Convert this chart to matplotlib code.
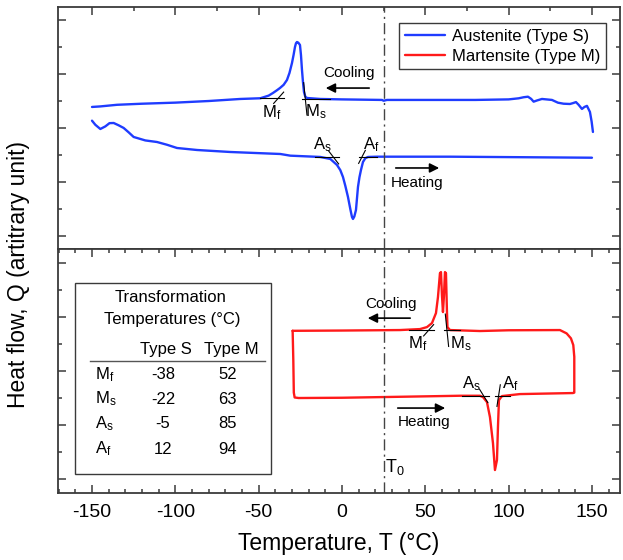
import numpy as np
import matplotlib.pyplot as plt
from matplotlib.ticker import MultipleLocator
from matplotlib.patches import Rectangle

plt.rcParams['font.family'] = ['Liberation Sans', 'DejaVu Sans']
plt.rcParams['mathtext.fontset'] = 'custom'
plt.rcParams['mathtext.rm'] = 'Liberation Sans'
plt.rcParams['mathtext.it'] = 'Liberation Sans:italic'
plt.rcParams['axes.unicode_minus'] = False

# --- DSC traces (arbitrary heat-flow units) ---
# Type S, cooling run (upper blue trace)
s_cool_T = [-150, -145, -135, -120, -100, -80, -61, -49, -44, -41.4, -39, -37.2, -35, -33,
            -31.5, -30, -29, -28.2, -27.6, -27, -26.2, -25.2, -24.6, -24, -23.4, -22.8, -22,
            -21, -13, 0, 24, 25, 27, 50, 80, 100, 106, 109, 111.6, 113.5, 115, 117, 120, 126,
            129.6, 133, 136.8, 138.5, 140.4, 142, 144, 145.5, 147, 148.8, 149.8, 150.6]
s_cool_Q = [2.39, 2.40, 2.43, 2.45, 2.47, 2.50, 2.538, 2.551, 2.60, 2.649, 2.70, 2.741, 2.80, 2.89,
            3.02, 3.204, 3.36, 3.501, 3.57, 3.593, 3.58, 3.538, 3.35, 3.075, 2.85, 2.667, 2.58,
            2.556, 2.538, 2.53, 2.52, 2.505, 2.52, 2.52, 2.52, 2.53, 2.55,
            2.57, 2.58, 2.54, 2.488, 2.51, 2.538, 2.52,
            2.469, 2.45, 2.445, 2.46, 2.48, 2.43, 2.353, 2.39, 2.41, 2.297, 2.12, 1.927]

# Type S, heating run (lower blue trace)
s_heat_T = [-150, -148, -145, -142, -139.5, -137, -134, -131, -128, -125, -118, -111, -105, -99,
            -87, -67, -37, -31, -13, -7, -3, -1, 0.6, 2, 3.6, 5, 6, 6.6, 7.4, 8.4, 9.6, 10.5,
            11.4, 12.6, 14, 15.6, 21, 65, 150]
s_heat_Q = [2.136, 2.06, 1.982, 2.03, 2.09, 2.093, 2.05, 2.001, 1.92, 1.834, 1.77, 1.741, 1.69,
            1.630, 1.593, 1.556, 1.519, 1.488, 1.464, 1.427, 1.316, 1.22, 1.093, 0.93, 0.723,
            0.50, 0.353, 0.316, 0.36, 0.482, 0.908, 1.09, 1.223, 1.371, 1.44, 1.464, 1.469,
            1.469, 1.45]

# Type M, full heating/cooling loop (red trace)
m_loop_T = [-29.6, -29.2, -28.9, -28.4, -26, 0, 34.8, 70.8, 82.8, 84.6, 87, 88.8, 90.6, 91.8,
            93, 93.6, 94.2, 96, 106.8, 138.6, 139.4, 139.4, 138.8, 137.4, 134.8, 130.8, 100,
            82.8, 64.8, 63.3, 63, 62.4, 61.8, 61.2, 60.6, 60.0, 59.4, 58.8, 57.6, 56.4, 54, 51,
            46.8, 34.8, 0, -29.6]
m_loop_Q = [2.745, 2.2, 1.6, 1.51, 1.50, 1.505, 1.523, 1.542, 1.542, 1.518, 1.425, 1.147, 0.666,
            0.166, 0.351, 0.962, 1.462, 1.536, 1.573, 1.592, 1.60, 2.264, 2.481, 2.605, 2.697,
            2.759, 2.755, 2.741, 2.759, 2.814, 3.092, 3.814, 3.833, 3.4, 3.092, 3.4, 3.833, 3.814,
            3.37, 3.073, 2.888, 2.814, 2.777, 2.759, 2.75, 2.745]

# transformation temperatures (deg C)
phases = ['M$_\\mathrm{f}$', 'M$_\\mathrm{s}$', 'A$_\\mathrm{s}$', 'A$_\\mathrm{f}$']
temps_S = [-38, -22, -5, 12]
temps_M = [52, 63, 85, 94]
T0 = 25

blue = '#1f3cff'
red = '#ff1a1a'
spine_c = '#3a3a3a'

fig = plt.figure(figsize=(6.23, 5.6), dpi=100)
ax1 = fig.add_axes([0.0931, 0.5554, 0.902, 0.432])
ax2 = fig.add_axes([0.0931, 0.1196, 0.902, 0.4357])

line_kw = dict(lw=1.7, solid_joinstyle='round', solid_capstyle='round')
ax1.plot(s_cool_T, s_cool_Q, color=blue, label='Austenite (Type S)', **line_kw)
ax1.plot(s_heat_T, s_heat_Q, color=blue, **line_kw)
ax1.plot([], [], color=red, label='Martensite (Type M)', **line_kw)
ax2.plot(m_loop_T, m_loop_Q, color=red, **line_kw)


def tangent_mark(ax, T, Q, slope, half, left, right):
    # baseline extension plus tangent through the onset point
    ax.plot([T - left, T + right], [Q, Q], color='k', lw=0.8)
    ax.plot([T - half, T + half], [Q - slope * half, Q + slope * half], color='k', lw=0.8)


tangent_mark(ax1, temps_S[0], 2.56, 0.035, 3, 11, 3)
tangent_mark(ax1, temps_S[1], 2.54, -0.3, 1, 2, 15)
tangent_mark(ax1, temps_S[2], 1.455, -0.04, 3, 11, 3)
tangent_mark(ax1, temps_S[3], 1.465, 0.06, 2, 2, 9)
tangent_mark(ax2, temps_M[0], 2.755, 0.035, 3, 12, 3)
tangent_mark(ax2, temps_M[1], 2.755, -0.3, 1, 2, 8)
tangent_mark(ax2, temps_M[2], 1.54, -0.05, 2.5, 13, 3)
tangent_mark(ax2, temps_M[3], 1.545, 0.2, 1, 2, 7)

lab = dict(fontsize=12, ha='center', va='center')
ax1.text(-42, 2.28, phases[0], **lab)
ax1.text(-15.6, 2.30, phases[1], **lab)
ax1.text(-12, 1.69, phases[2], **lab)
ax1.text(17.4, 1.69, phases[3], **lab)
ax2.text(45.6, 2.50, phases[0], **lab)
ax2.text(71.4, 2.50, phases[1], **lab)
ax2.text(77.4, 1.76, phases[2], **lab)
ax2.text(100.8, 1.76, phases[3], **lab)

arrow = dict(arrowstyle='-|>', color='k', lw=1.2, mutation_scale=14)
ax1.annotate('', xy=(-11.4, 2.74), xytext=(18, 2.74), arrowprops=arrow)
ax1.text(4.2, 3.02, 'Cooling', fontsize=11, ha='center', va='center')
ax1.annotate('', xy=(60, 1.26), xytext=(30.6, 1.26), arrowprops=arrow)
ax1.text(45, 0.98, 'Heating', fontsize=11, ha='center', va='center')
ax2.annotate('', xy=(13.8, 2.98), xytext=(42.6, 2.98), arrowprops=arrow)
ax2.text(29.4, 3.24, 'Cooling', fontsize=11, ha='center', va='center')
ax2.annotate('', xy=(63.6, 1.314), xytext=(31.8, 1.314), arrowprops=arrow)
ax2.text(49.2, 1.055, 'Heating', fontsize=11, ha='center', va='center')

for ax in (ax1, ax2):
    ax.axvline(T0, color='#444444', lw=1.0, linestyle=(0, (8, 3, 1.5, 3)))
ax2.text(T0 + 1, 0.22, 'T$_\\mathrm{0}$', fontsize=13, ha='left', va='center')

# axes limits and ticks
for ax in (ax1, ax2):
    ax.set_xlim(-170.4, 166.8)
    ax.yaxis.set_major_locator(MultipleLocator(1))
    ax.yaxis.set_minor_locator(MultipleLocator(0.5))
    ax.xaxis.set_major_locator(MultipleLocator(50))
    for s in ax.spines.values():
        s.set_color(spine_c)
        s.set_linewidth(1.3)
    ax.tick_params(which='both', direction='in', color=spine_c, width=1.1,
                   left=True, right=True, labelleft=False)
    ax.tick_params(which='major', length=6)
    ax.tick_params(which='minor', length=3)

ax1.set_ylim(-0.24, 4.24)
ax2.set_ylim(-0.26, 4.26)
ax1.xaxis.set_minor_locator(MultipleLocator(25))
ax1.tick_params(which='both', top=True, bottom=False, labelbottom=False)
ax2.xaxis.set_minor_locator(MultipleLocator(10))
ax2.tick_params(which='both', top=True, bottom=True)
ax2.tick_params(axis='x', labelsize=14, pad=8)
ax2.set_xlabel('Temperature, T (\u00b0C)', fontsize=16.5, labelpad=8)
fig.text(0.029, 0.51, 'Heat flow, Q (artitrary unit)', rotation=90, fontsize=16.5,
         ha='center', va='center')

leg = ax1.legend(loc='upper right', bbox_to_anchor=(0.975, 0.935), fontsize=12,
                 frameon=True, fancybox=False, framealpha=1, edgecolor=spine_c,
                 handlelength=2.4, handletextpad=0.4, borderpad=0.35, labelspacing=0.3,
                 borderaxespad=0)
leg.get_frame().set_linewidth(1.0)

# transformation temperature table
tr = ax2.transAxes
ax2.add_patch(Rectangle((0.030, 0.078), 0.349, 0.783, transform=tr, fill=False,
                        edgecolor=spine_c, lw=1.0))
ax2.text(0.201, 0.803, 'Transformation', transform=tr, fontsize=12, ha='center', va='center')
ax2.text(0.203, 0.713, 'Temperatures (\u00b0C)', transform=tr, fontsize=12, ha='center', va='center')
ax2.text(0.192, 0.590, 'Type S', transform=tr, fontsize=12, ha='center', va='center')
ax2.text(0.308, 0.590, 'Type M', transform=tr, fontsize=12, ha='center', va='center')
ax2.plot([0.057, 0.368], [0.541, 0.541], transform=tr, color='#555555', lw=1.0)
row_y = [0.484, 0.385, 0.283, 0.180]
for name, ts, tm, y in zip(phases, temps_S, temps_M, row_y):
    ax2.text(0.066, y, name, transform=tr, fontsize=12, ha='left', va='center')
    ax2.text(0.187, y, f'{ts}', transform=tr, fontsize=12, ha='center', va='center')
    ax2.text(0.302, y, f'{tm}', transform=tr, fontsize=12, ha='center', va='center')

fig.savefig('out.png', dpi=100)
